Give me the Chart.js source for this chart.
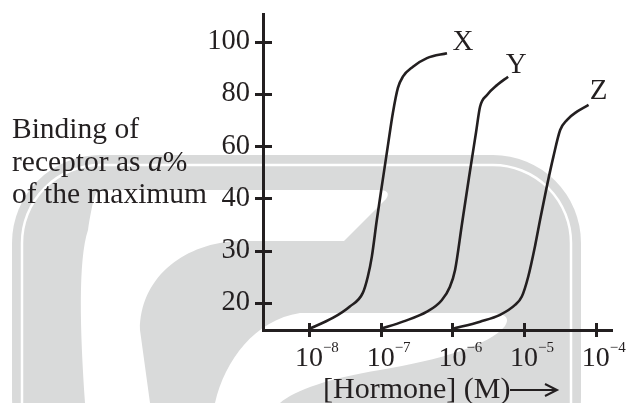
<!DOCTYPE html>
<html><head><meta charset="utf-8">
<script src="https://cdn.jsdelivr.net/npm/chart.js@4"></script>
<style>html,body{margin:0;padding:0;background:#fff}#wrap{width:626px;height:403px;position:relative}</style>
</head><body><div id="wrap"><canvas id="c"></canvas></div>
<script>
// ---- data ----
const seriesNames = ['X', 'Y', 'Z'];
// hormone concentration (M)
const concX = [1.0e-8, 2.15e-8, 3.72e-8, 5.64e-8, 6.62e-8, 7.53e-8, 8.85e-8, 1.07e-7, 1.26e-7, 1.48e-7, 1.74e-7, 2.04e-7, 2.82e-7, 4.42e-7, 8.41e-7];
const bindX = [15, 17.1, 19.3, 21.9, 25.0, 28.8, 35.9, 47.1, 60.1, 72.7, 82.3, 86.6, 90.4, 93.7, 95.6];
const concY = [1.0e-7, 2.04e-7, 4.42e-7, 7.10e-7, 9.25e-7, 1.09e-6, 1.36e-6, 1.70e-6, 2.14e-6, 2.43e-6, 3.04e-6, 4.20e-6, 5.98e-6];
const bindY = [15, 16.4, 18.3, 20.5, 23.1, 26.3, 35.1, 47.8, 65.4, 75.1, 79.6, 83.4, 86.6];
const concZ = [1.0e-6, 2.43e-6, 4.62e-6, 7.48e-6, 9.29e-6, 1.14e-5, 1.43e-5, 1.67e-5, 2.07e-5, 2.56e-5, 3.18e-5, 3.94e-5, 5.45e-5, 7.91e-5];
const bindZ = [15, 16.4, 17.7, 19.6, 21.2, 25.0, 31.1, 35.9, 44.5, 56.0, 66.2, 70.0, 73.2, 75.8];
// axis ticks
const yTickLabels = [20, 30, 40, 60, 80, 100];
const xTickExponents = [-8, -7, -6, -5, -4];
const xRangeExponents = [-8.64, -3.775];
const yRangePercent = [14.8, 110.6];

// the y axis in the picture is not linear: its ticks are evenly spaced
function toAxis(p) {
  const t = yTickLabels;
  if (p <= t[0]) return 1 - (t[0] - p) / (t[1] - t[0]);
  for (let i = 0; i < t.length - 1; i++) {
    if (p <= t[i + 1]) return 1 + i + (p - t[i]) / (t[i + 1] - t[i]);
  }
  const n = t.length;
  return n + (p - t[n - 1]) / (t[n - 1] - t[n - 2]);
}

const INK = '#231f20';
const SERIF = '"Liberation Serif", "Times New Roman", serif';
const concs = [concX, concY, concZ];
const binds = [bindX, bindY, bindZ];
const labelOffsets = [[16, -11], [8, -11], [10, -13]];

const datasets = seriesNames.map((name, k) => ({
  label: name,
  data: concs[k].map((c, i) => ({ x: c, y: toAxis(binds[k][i]) })),
  borderColor: INK,
  borderWidth: 2.6,
  pointRadius: 0,
  fill: false,
  cubicInterpolationMode: 'monotone'
}));

const watermark = {
  id: 'watermark',
  beforeDraw(chart) {
    const ctx = chart.ctx;
    ctx.save();
    ctx.fillStyle = '#d9dada';
    ctx.beginPath(); ctx.roundRect(12, 155, 569, 330, 88); ctx.fill();
    ctx.strokeStyle = '#ffffff'; ctx.lineWidth = 2.5;
    ctx.beginPath(); ctx.roundRect(22, 165, 549, 320, 78); ctx.stroke();
    ctx.fillStyle = '#ffffff';
    // upper white hook
    ctx.beginPath();
    ctx.moveTo(100, 190);
    ctx.lineTo(378, 190);
    ctx.quadraticCurveTo(392, 190, 386, 199);
    ctx.lineTo(344, 241);
    ctx.lineTo(235, 241);
    ctx.bezierCurveTo(180, 245, 140, 280, 140, 330);
    ctx.lineTo(150, 403);
    ctx.lineTo(85, 403);
    ctx.bezierCurveTo(80, 330, 78, 260, 88, 230);
    ctx.bezierCurveTo(92, 205, 95, 190, 100, 190);
    ctx.closePath(); ctx.fill();
    // lower white blade
    ctx.beginPath();
    ctx.moveTo(300, 313);
    ctx.lineTo(495, 313);
    ctx.quadraticCurveTo(512, 315, 505, 326);
    ctx.bezierCurveTo(490, 345, 440, 360, 380, 370);
    ctx.bezierCurveTo(330, 378, 295, 390, 280, 403);
    ctx.lineTo(215, 403);
    ctx.bezierCurveTo(225, 360, 255, 320, 300, 313);
    ctx.closePath(); ctx.fill();
    ctx.restore();
  }
};

const decorations = {
  id: 'decorations',
  afterDraw(chart) {
    const ctx = chart.ctx;
    const xs = chart.scales.x, ys = chart.scales.y;
    ctx.save();
    ctx.strokeStyle = INK; ctx.fillStyle = INK; ctx.lineWidth = 3;
    // tick marks crossing the axes
    ys.ticks.forEach(t => {
      const py = Math.round(ys.getPixelForValue(t.value)) + 0.5;
      ctx.beginPath(); ctx.moveTo(xs.left - 8, py); ctx.lineTo(xs.left + 9, py); ctx.stroke();
    });
    xs.ticks.forEach(t => {
      const px = Math.round(xs.getPixelForValue(t.value)) + 0.5;
      ctx.beginPath(); ctx.moveTo(px, ys.bottom - 7); ctx.lineTo(px, ys.bottom + 7); ctx.stroke();
    });
    // x tick labels 10^n
    xTickExponents.forEach(e => {
      const px = xs.getPixelForValue(Math.pow(10, e));
      ctx.font = '28px ' + SERIF; ctx.textAlign = 'center'; ctx.textBaseline = 'alphabetic';
      ctx.fillText('10', px, 366);
      ctx.font = '15px ' + SERIF; ctx.textAlign = 'left';
      ctx.fillText('\u2212' + Math.abs(e), px + 14, 352);
    });
    // x axis title with arrow
    ctx.font = '30px ' + SERIF; ctx.textAlign = 'left';
    ctx.fillText('[Hormone] (M)', 323, 398);
    ctx.lineWidth = 2;
    ctx.beginPath(); ctx.moveTo(510, 390); ctx.lineTo(556, 390); ctx.stroke();
    ctx.beginPath(); ctx.moveTo(545, 384); ctx.lineTo(557, 390); ctx.lineTo(545, 396); ctx.stroke();
    // y axis title
    ctx.font = '29.5px ' + SERIF;
    ctx.fillText('Binding of', 12, 138);
    let x0 = 12;
    ctx.fillText('receptor as ', x0, 171); x0 += ctx.measureText('receptor as ').width;
    ctx.font = 'italic 29.5px ' + SERIF;
    ctx.fillText('a', x0, 171); x0 += ctx.measureText('a').width;
    ctx.font = '29.5px ' + SERIF;
    ctx.fillText('%', x0, 171);
    ctx.fillText('of the maximum', 12, 203);
    // series labels at the end of each curve
    ctx.font = '29px ' + SERIF; ctx.textAlign = 'center'; ctx.textBaseline = 'middle';
    chart.data.datasets.forEach((ds, k) => {
      const meta = chart.getDatasetMeta(k);
      const last = meta.data[meta.data.length - 1];
      ctx.fillText(ds.label, last.x + labelOffsets[k][0], last.y + labelOffsets[k][1]);
    });
    ctx.restore();
  }
};

new Chart(document.getElementById('c'), {
  type: 'line',
  data: { datasets },
  options: {
    responsive: true,
    maintainAspectRatio: false,
    animation: false,
    layout: { padding: { top: 14, right: 14, left: 0, bottom: 0 } },
    plugins: { legend: { display: false }, tooltip: { enabled: false }, title: { display: false } },
    scales: {
      x: {
        type: 'logarithmic',
        min: Math.pow(10, xRangeExponents[0]),
        max: Math.pow(10, xRangeExponents[1]),
        afterBuildTicks: s => { s.ticks = xTickExponents.map(e => ({ value: Math.pow(10, e) })); },
        ticks: { display: false },
        grid: { display: false, drawTicks: false },
        border: { display: true, color: INK, width: 3 },
        afterFit: s => { s.height = 73; s.paddingLeft = 0; s.paddingRight = 0; s.paddingTop = 0; s.paddingBottom = 0; }
      },
      y: {
        type: 'linear',
        min: toAxis(yRangePercent[0]),
        max: toAxis(yRangePercent[1]),
        afterBuildTicks: s => { s.ticks = yTickLabels.map(v => ({ value: toAxis(v) })); },
        ticks: {
          autoSkip: false,
          callback: (v, i) => String(yTickLabels[i]),
          font: { family: SERIF, size: 28.5 },
          color: INK,
          padding: 13
        },
        grid: { display: false, drawTicks: false },
        border: { display: true, color: INK, width: 3 },
        afterFit: s => { s.width = 263; s.paddingLeft = 0; s.paddingRight = 0; s.paddingTop = 0; s.paddingBottom = 0; }
      }
    }
  },
  plugins: [watermark, decorations]
});
</script>
</body></html>
